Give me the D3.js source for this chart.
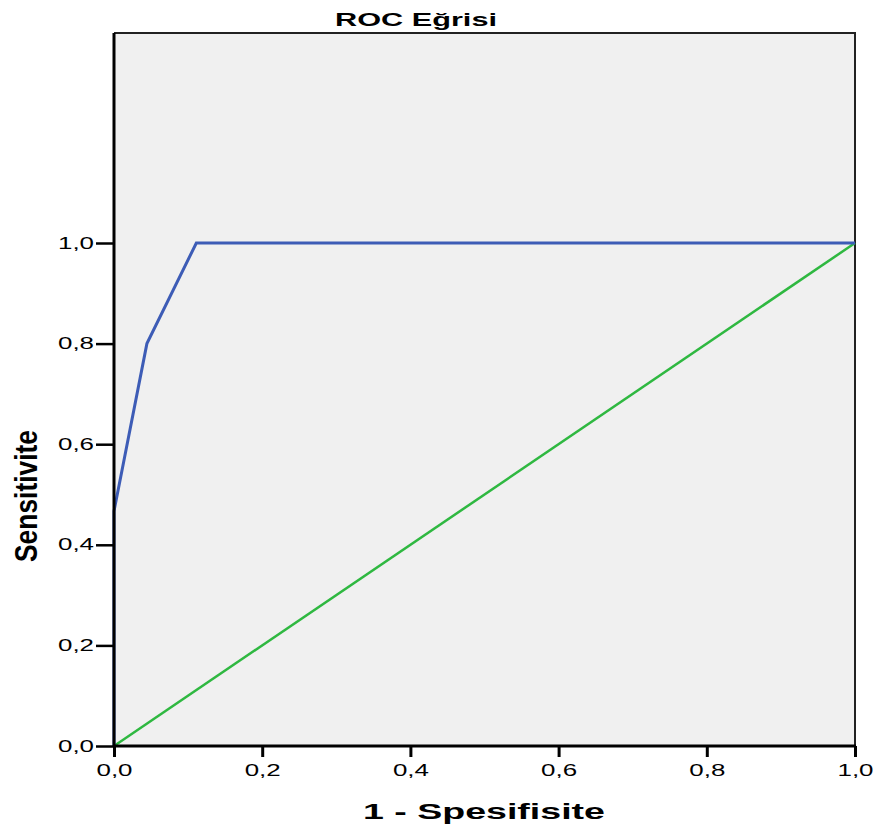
<!DOCTYPE html>
<html>
<head>
<meta charset="utf-8">
<script src="https://cdn.jsdelivr.net/npm/d3@7"></script>
<style>
  html, body { margin: 0; padding: 0; background: #fff; }
  svg { display: block; }
</style>
</head>
<body>
<script>
// ROC curve points (1 - specificity, sensitivity)
const rocX = [0, 0, 0.0444, 0.1111, 1];
const rocY = [0, 0.467, 0.8, 1, 1];
// Reference (chance) diagonal
const refX = [0, 1];
const refY = [0, 1];
const tickValues = [0, 0.2, 0.4, 0.6, 0.8, 1.0];
const titleText = "ROC Eğrisi";
const xLabel = "1 - Spesifisite";
const yLabel = "Sensitivite";

const W = 877, H = 829;
const plotL = 114, plotR = 855, plotT = 33, plotB = 746;
const font = "'Liberation Sans', Arial, sans-serif";

const svg = d3.select("body").append("svg").attr("width", W).attr("height", H);

const x = d3.scaleLinear().domain([0, 1]).range([plotL, plotR]);
const y = d3.scaleLinear().domain([0, 1]).range([plotB, 243]);

// plot background
svg.append("rect")
  .attr("x", plotL).attr("y", plotT)
  .attr("width", plotR - plotL).attr("height", plotB - plotT)
  .attr("fill", "#f0f0f0");

// top and right frame
svg.append("path")
  .attr("d", `M${plotL},${plotT}H${plotR}V${plotB}`)
  .attr("fill", "none").attr("stroke", "#222").attr("stroke-width", 2);

const line = d3.line().x(d => x(d[0])).y(d => y(d[1]));

// chance diagonal
svg.append("path")
  .datum(refX.map((v, i) => [v, refY[i]]))
  .attr("d", line)
  .attr("fill", "none").attr("stroke", "#2fb841").attr("stroke-width", 2.5);

// ROC curve
svg.append("path")
  .datum(rocX.map((v, i) => [v, rocY[i]]))
  .attr("d", line)
  .attr("fill", "none").attr("stroke", "#3d5cb6").attr("stroke-width", 3)
  .attr("stroke-linejoin", "miter");

const fmt = d => d3.format(".1f")(d).replace(".", ",");

// x axis
const xAxis = svg.append("g")
  .attr("transform", `translate(0,${plotB})`)
  .call(d3.axisBottom(x).tickValues(tickValues).tickFormat(fmt).tickSize(11).tickPadding(8));
xAxis.select(".domain").attr("stroke", "#000").attr("stroke-width", 3)
  .attr("d", `M${plotL - 1},0H${plotR + 1}`);
xAxis.selectAll(".tick line").attr("stroke", "#000").attr("stroke-width", 3);
xAxis.selectAll(".tick text")
  .attr("fill", "#000")
  .attr("textLength", 36).attr("lengthAdjust", "spacingAndGlyphs")
  .style("font-family", font)
  .style("font-size", "16px");

// y axis
const yAxis = svg.append("g")
  .attr("transform", `translate(${plotL},0)`)
  .call(d3.axisLeft(y).tickValues(tickValues).tickFormat(fmt).tickSize(18).tickPadding(2));
yAxis.select(".domain").attr("stroke", "#000").attr("stroke-width", 3)
  .attr("d", `M0,${plotB + 1}V${plotT}`);
yAxis.selectAll(".tick line").attr("stroke", "#000").attr("stroke-width", 2.5);
yAxis.selectAll(".tick text")
  .attr("fill", "#000")
  .attr("textLength", 36).attr("lengthAdjust", "spacingAndGlyphs")
  .style("font-family", font)
  .style("font-size", "16px");

// title
svg.append("text")
  .attr("x", 416).attr("y", 26)
  .attr("text-anchor", "middle")
  .attr("textLength", 162).attr("lengthAdjust", "spacingAndGlyphs")
  .style("font-family", font)
  .style("font-weight", "bold").style("font-size", "18px")
  .text(titleText);

// x axis title
svg.append("text")
  .attr("x", 484).attr("y", 819)
  .attr("text-anchor", "middle")
  .attr("textLength", 242).attr("lengthAdjust", "spacingAndGlyphs")
  .style("font-family", font)
  .style("font-weight", "bold").style("font-size", "22px")
  .text(xLabel);

// y axis title
svg.append("text")
  .attr("transform", "translate(37,496) rotate(-90)")
  .attr("text-anchor", "middle")
  .attr("textLength", 132).attr("lengthAdjust", "spacingAndGlyphs")
  .style("font-family", "'Liberation Sans Narrow', 'Liberation Sans', Arial, sans-serif")
  .style("font-weight", "bold").style("font-size", "32px")
  .text(yLabel);
</script>
</body>
</html>
